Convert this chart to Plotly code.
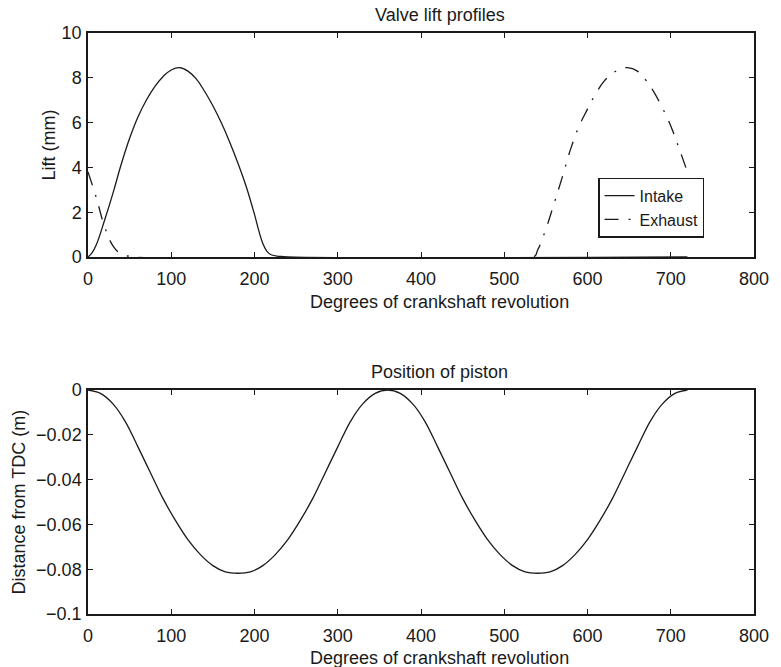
import plotly.graph_objects as go

# ---------------- data ----------------
intake_deg = [0, 5, 10, 20, 30, 40, 50, 60, 70, 80, 90, 100, 110, 120, 130, 140,
              150, 160, 170, 180, 190, 200, 205, 210, 215, 220, 230, 240, 720]
intake_lift = [0, 0.2, 0.55, 1.65, 2.85, 4.15, 5.3, 6.25, 7.0, 7.6, 8.05, 8.35, 8.45, 8.3,
               7.95, 7.4, 6.75, 6.0, 5.15, 4.2, 3.15, 1.9, 1.2, 0.6, 0.25, 0.1, 0.03, 0, 0]

exhaust_deg = [0, 10, 20, 30, 40, 50, 55, 535, 540, 550, 560, 570, 580, 590, 600, 610,
               620, 630, 640, 648, 660, 670, 680, 690, 700, 710, 720]
exhaust_lift = [3.8, 2.65, 1.35, 0.5, 0.12, 0.03, 0, 0, 0.3, 1.25, 2.4, 3.6, 4.85, 5.85, 6.6,
                7.3, 7.85, 8.2, 8.4, 8.45, 8.3, 7.9, 7.35, 6.65, 5.85, 4.85, 3.8]

piston_deg = [0, 15, 30, 45, 60, 75, 90, 105, 120, 135, 150, 165, 180,
              195, 210, 225, 240, 255, 270, 285, 300, 315, 330, 345, 360,
              375, 390, 405, 420, 435, 450, 465, 480, 495, 510, 525, 540,
              555, 570, 585, 600, 615, 630, 645, 660, 675, 690, 705, 720]
piston_pos = [0, -0.0015, -0.0062, -0.0142, -0.0254, -0.0369, -0.0484, -0.0582, -0.0668,
              -0.0735, -0.0784, -0.0812, -0.0818,
              -0.0812, -0.0784, -0.0735, -0.0668, -0.0582, -0.0484, -0.0369, -0.0254,
              -0.0142, -0.0062, -0.0015, 0,
              -0.0015, -0.0062, -0.0142, -0.0254, -0.0369, -0.0484, -0.0582, -0.0668,
              -0.0735, -0.0784, -0.0812, -0.0818,
              -0.0812, -0.0784, -0.0735, -0.0668, -0.0582, -0.0484, -0.0369, -0.0254,
              -0.0142, -0.0062, -0.0015, 0]

x_ticks = [0, 100, 200, 300, 400, 500, 600, 700, 800]
lift_ticks = [0, 2, 4, 6, 8, 10]
pos_ticks = [0, -0.02, -0.04, -0.06, -0.08, -0.1]
pos_tick_text = ["0", "\u22120.02", "\u22120.04", "\u22120.06", "\u22120.08", "\u22120.1"]

titles = {
    "top": "Valve lift profiles",
    "bottom": "Position of piston",
    "xlabel": "Degrees of crankshaft revolution",
    "ylabel_top": "Lift (mm)",
    "ylabel_bottom": "Distance from TDC (m)",
}

# ---------------- figure ----------------
FONT = "Liberation Sans, Arial, Helvetica, sans-serif"
INK = "#1a1a1a"
W, H = 781, 667
ML, MR, MT, MB = 88, 17, 33, 53
PW, PH = W - ML - MR, H - MT - MB


def px_x(x):
    return (x - ML) / PW


def px_y(y):
    return (H - MB - y) / PH


fig = go.Figure()
fig.add_trace(go.Scatter(x=intake_deg, y=intake_lift, mode="lines", name="Intake",
                         line=dict(color=INK, width=1.3, shape="spline", smoothing=1.2),
                         xaxis="x", yaxis="y"))
fig.add_trace(go.Scatter(x=exhaust_deg, y=exhaust_lift, mode="lines", name="Exhaust",
                         line=dict(color=INK, width=1.3, shape="spline", smoothing=1.2,
                                   dash="14px,10px,2px,10px"),
                         xaxis="x", yaxis="y"))
fig.add_trace(go.Scatter(x=piston_deg, y=piston_pos, mode="lines", showlegend=False,
                         line=dict(color=INK, width=1.3, shape="spline", smoothing=1),
                         xaxis="x2", yaxis="y2"))

axis_common = dict(showline=True, linecolor=INK, linewidth=1.5, mirror="ticks",
                   ticks="inside", ticklen=5, tickwidth=1, tickcolor=INK,
                   showgrid=False, zeroline=False,
                   tickfont=dict(family=FONT, size=18, color=INK))

top_y0 = px_y(257)
bot_y1 = px_y(390)

fig.update_layout(
    width=W, height=H,
    margin=dict(l=ML, r=MR, t=MT, b=MB),
    paper_bgcolor="white", plot_bgcolor="white",
    xaxis=dict(domain=[0, 1], anchor="y", range=[0, 800], tickvals=x_ticks,
               ticklabelstandoff=5, **axis_common),
    yaxis=dict(domain=[top_y0, 1], anchor="x", range=[0, 10], tickvals=lift_ticks,
               ticklabelstandoff=1, **axis_common),
    xaxis2=dict(domain=[0, 1], anchor="y2", range=[0, 800], tickvals=x_ticks,
                ticklabelstandoff=5, **axis_common),
    yaxis2=dict(domain=[0, bot_y1], anchor="x2", range=[-0.1, 0], tickvals=pos_ticks,
                ticktext=pos_tick_text, ticklabelstandoff=1, **axis_common),
    showlegend=True,
    legend=dict(x=px_x(606), y=px_y(207.5), xanchor="left", yanchor="middle",
                bgcolor="white", bordercolor=INK, borderwidth=1.2,
                font=dict(family=FONT, size=16, color=INK),
                itemwidth=30, tracegroupgap=0),
)

ann_font = dict(family=FONT, size=18, color=INK)
tx = px_x(445)
annotations = [
    dict(text=titles["top"], x=tx, y=px_y(15)),
    dict(text=titles["xlabel"], x=tx, y=px_y(301.5)),
    dict(text=titles["bottom"], x=tx, y=px_y(372)),
    dict(text=titles["xlabel"], x=tx, y=px_y(658)),
    dict(text=titles["ylabel_top"], x=px_x(48), y=px_y(145), textangle=-90),
    dict(text=titles["ylabel_bottom"], x=px_x(17.5), y=px_y(502), textangle=-90),
]
for a in annotations:
    fig.add_annotation(xref="paper", yref="paper", xanchor="center", yanchor="middle",
                       showarrow=False, font=ann_font, **a)

fig.write_html("out.html")
